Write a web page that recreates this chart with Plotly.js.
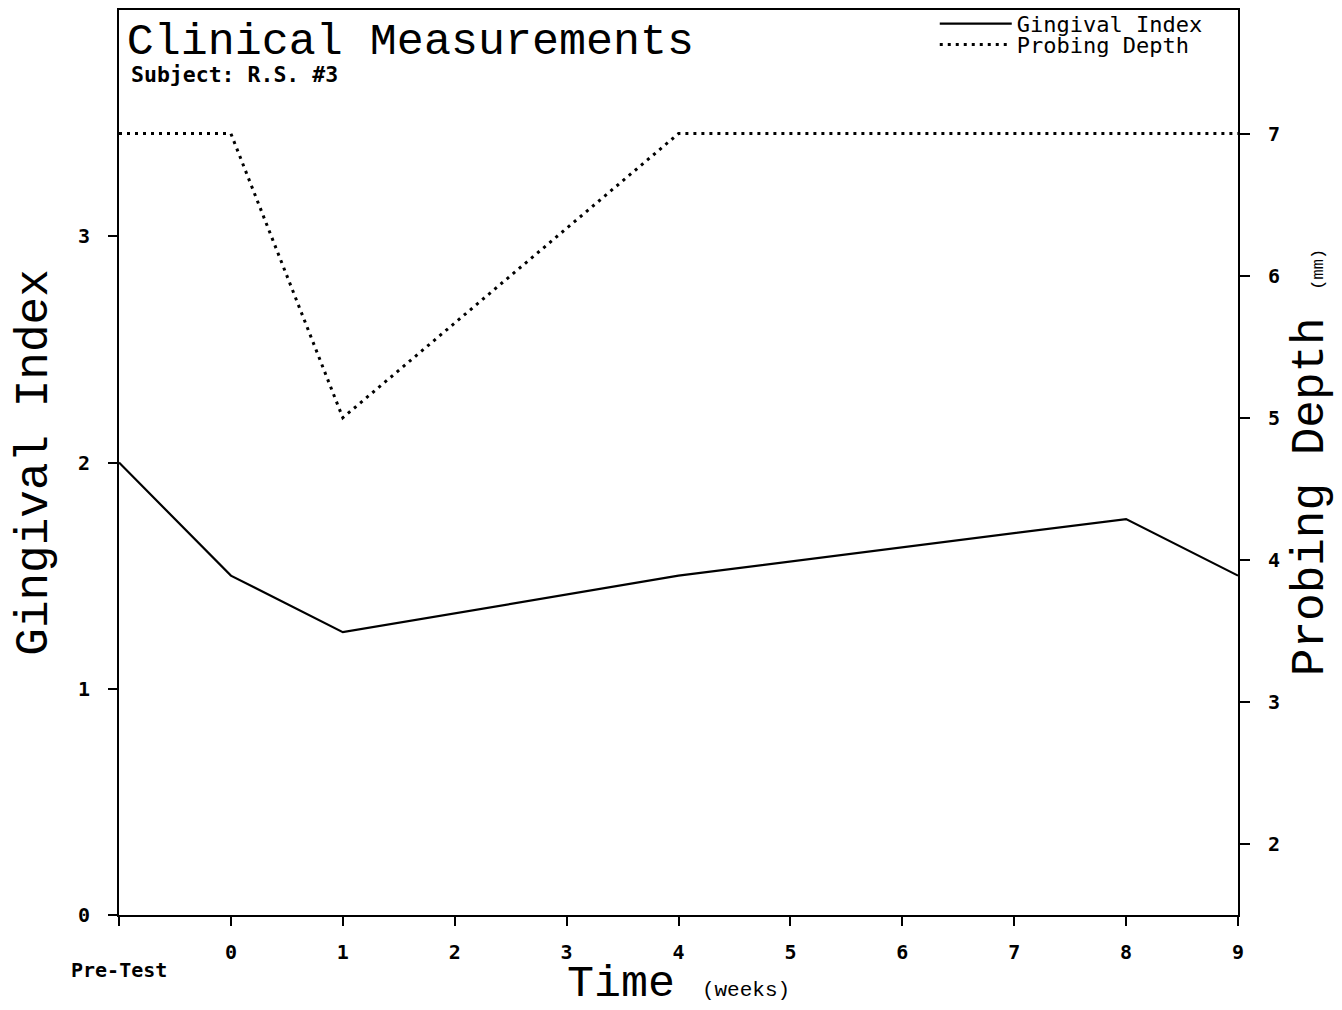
<!DOCTYPE html>
<html>
<head>
<meta charset="utf-8">
<script src="https://cdn.plot.ly/plotly-3.0.1.min.js"></script>
<style>
  html, body { margin: 0; padding: 0; background: #ffffff; }
  #chart { width: 1342px; height: 1010px; }
</style>
</head>
<body>
<div id="chart"></div>
<script>
// Measurement times (weeks); -1 stands for the pre-test visit
const weeks = [-1, 0, 1, 4, 8, 9];
const gingivalIndex = [2.0, 1.5, 1.25, 1.5, 1.75, 1.5];
const probingDepth = [7, 7, 5, 7, 7, 7];

// Axis ticks
const timeTickVals = [-1, 0, 1, 2, 3, 4, 5, 6, 7, 8, 9];
const timeTickText = ['Pre-Test', '0', '1', '2', '3', '4', '5', '6', '7', '8', '9'];
const giTickVals = [0, 1, 2, 3];
const pdTickVals = [2, 3, 4, 5, 6, 7];

// The pre-test label sits lower than the week numbers, so it is drawn as its own annotation
const axisTickText = timeTickText.map((t, i) => (timeTickVals[i] < 0 ? '' : t));

const TICK_FONT = { family: 'DejaVu Sans Mono', size: 20, color: '#000', weight: 'bold' };
const BIG_FONT = { family: 'Liberation Mono', size: 45, color: '#000' };
const LEGEND_FONT = { family: 'DejaVu Sans Mono', size: 22, color: '#000' };

const traces = [
  {
    x: weeks, y: gingivalIndex, name: 'Gingival Index',
    type: 'scatter', mode: 'lines',
    line: { color: '#000', width: 2.2 },
    yaxis: 'y', legend: 'legend'
  },
  {
    x: weeks, y: probingDepth, name: 'Probing Depth',
    type: 'scatter', mode: 'lines',
    line: { color: '#000', width: 3, dash: '3px,5px' },
    yaxis: 'y2', legend: 'legend2'
  }
];

const legendBase = {
  x: 0.729, xanchor: 'left', yanchor: 'top',
  bgcolor: 'rgba(0,0,0,0)', borderwidth: 0,
  font: LEGEND_FONT, itemwidth: 72
};

const layout = {
  width: 1342, height: 1010,
  margin: { l: 119, r: 104, t: 10, b: 95, autoexpand: false },
  paper_bgcolor: '#fff', plot_bgcolor: '#fff',
  showlegend: true,
  title: {
    text: 'Clinical Measurements',
    font: { family: 'Liberation Mono', size: 45, color: '#000' },
    x: 0.007, xanchor: 'left', xref: 'paper',
    y: 0.969, yanchor: 'middle', yref: 'paper'
  },
  legend: Object.assign({}, legendBase, { y: 1.008 }),
  legend2: Object.assign({}, legendBase, { y: 0.985 }),
  annotations: [
    {
      text: 'Subject: R.S. #3', showarrow: false,
      xref: 'paper', yref: 'paper', x: 0.009, xanchor: 'left',
      y: 0.929, yanchor: 'middle',
      font: { family: 'DejaVu Sans Mono', size: 21.5, color: '#000', weight: 'bold' }
    },
    {
      text: timeTickText[0], showarrow: false,
      xref: 'x', yref: 'paper', x: timeTickVals[0], xanchor: 'center',
      y: -0.061, yanchor: 'middle',
      font: TICK_FONT
    }
  ],
  xaxis: {
    range: [-1, 9], tickmode: 'array', tickvals: timeTickVals, ticktext: axisTickText,
    showgrid: false, zeroline: false,
    showline: true, linecolor: '#000', linewidth: 2, mirror: true,
    ticks: 'outside', ticklen: 9, tickwidth: 2, tickcolor: '#000',
    ticklabelstandoff: 9,
    tickfont: TICK_FONT,
    title: {
      text: 'Time <span style="font-size:21px">(weeks)</span>',
      font: BIG_FONT, standoff: 15
    }
  },
  yaxis: {
    range: [0, 4], tickmode: 'array', tickvals: giTickVals,
    showgrid: false, zeroline: false,
    showline: true, linecolor: '#000', linewidth: 2,
    ticks: 'outside', ticklen: 9, tickwidth: 2, tickcolor: '#000',
    ticklabelstandoff: 14,
    tickfont: TICK_FONT,
    title: { text: 'Gingival Index', font: { family: 'Liberation Mono', size: 46, color: '#000' }, standoff: 16 }
  },
  yaxis2: {
    range: [1.5, 7.87], tickmode: 'array', tickvals: pdTickVals,
    overlaying: 'y', side: 'right', anchor: 'x',
    showgrid: false, zeroline: false,
    showline: true, linecolor: '#000', linewidth: 2,
    ticks: 'outside', ticklen: 10, tickwidth: 2, tickcolor: '#000',
    ticklabelstandoff: 14,
    tickfont: TICK_FONT,
    title: {
      text: 'Probing Depth <span style="font-size:17px">(mm)</span>',
      font: { family: 'Liberation Mono', size: 46, color: '#000' }, standoff: 12
    }
  }
};

Plotly.newPlot('chart', traces, layout, { staticPlot: true, displayModeBar: false });
</script>
</body>
</html>
